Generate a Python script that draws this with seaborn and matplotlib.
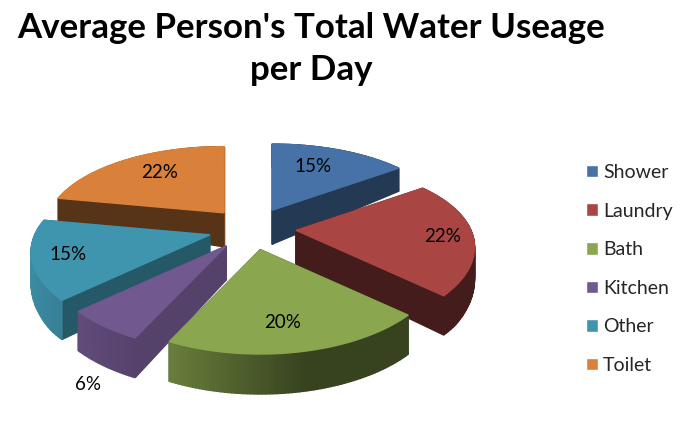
import numpy as np
import matplotlib
matplotlib.use('Agg')
import matplotlib.pyplot as plt
from matplotlib.patches import Patch
import seaborn as sns

# chart values
categories = ['Shower', 'Laundry', 'Bath', 'Kitchen', 'Other', 'Toilet']
percent = [15, 22, 20, 6, 15, 22]
colors = ['#4672A8', '#A94543', '#8AA64E', '#71588F', '#4095AE', '#D9803B']
start_wall_shade = [0.5, 0.4, 0.4, 0.75, 0.6, 0.4]
end_wall_shade = [0.5, 0.4, 0.4, 0.75, 0.6, 0.8]
title = "Average Person's Total Water Useage\nper Day"

# label centres in picture pixels
label_x = [313, 443, 283, 88, 68, 160]
label_y = [166, 237, 322, 384, 254, 173]

# pie layout in picture pixels
cx, cy = 252, 229
rx, ry = 175, 81
persp_x, persp_y = 0.2, 0.224
ex, ey = 44, 21
apex_depth = 34

sns.set_theme(style='white')
plt.rcParams['font.family'] = ['Lato', 'DejaVu Sans']
palette = sns.color_palette(colors)


def rim_point(apex, ang):
    u, v = np.sin(ang), np.cos(ang)
    return apex[0] + rx * u / (1 + persp_x * v), apex[1] - ry * v / (1 + persp_y * v)


def rim_depth(ang):
    return np.interp(np.cos(ang), [-1, -0.6, 0, 0.2, 1], [40, 39, 28, 23, 23])


def rim_shade(ang):
    return np.interp(np.sin(ang), [-1, -0.4, 0.2, 1], [0.95, 0.75, 0.4, 0.4])


def darker(col, k):
    return tuple(c * k for c in col)


fig = plt.figure(figsize=(6.77, 4.26), dpi=100)
ax = fig.add_axes([0, 0, 1, 1])
ax.set_xlim(0, 677)
ax.set_ylim(426, 0)
ax.axis('off')

edges = np.radians(np.concatenate([[0], np.cumsum(percent)]) * 3.6)
wedges = []
for i in range(len(percent)):
    mid = (edges[i] + edges[i + 1]) / 2
    apex = (cx + ex * np.sin(mid), cy - ey * np.cos(mid))
    wedges.append((apex[1], i, apex))

# back slices first
for _, i, apex in sorted(wedges, key=lambda w: w[0]):
    col = palette[i]
    angs = np.linspace(edges[i], edges[i + 1], int(percent[i] * 3.6) + 2)
    pts = [rim_point(apex, a) for a in angs]
    sides = []
    for a, p, k in ((angs[0], pts[0], start_wall_shade[i]), (angs[-1], pts[-1], end_wall_shade[i])):
        quad = [apex, p, (p[0], p[1] + rim_depth(a)), (apex[0], apex[1] + apex_depth)]
        sides.append((np.mean([q[1] for q in quad]), quad, darker(col, k)))
    for j in range(len(angs) - 1):
        p0, p1 = pts[j], pts[j + 1]
        d0, d1 = rim_depth(angs[j]), rim_depth(angs[j + 1])
        quad = [p0, p1, (p1[0], p1[1] + d1), (p0[0], p0[1] + d0)]
        sides.append((np.mean([q[1] for q in quad]), quad,
                      darker(col, rim_shade((angs[j] + angs[j + 1]) / 2))))
    for _, quad, c in sorted(sides, key=lambda s: s[0]):
        # thicker edge closes the seams between neighbouring quads
        ax.fill(*zip(*quad), color=c, lw=1.0)
    ax.fill(*zip(*([apex] + pts)), color=col, lw=1.0)

for x, y, p in zip(label_x, label_y, percent):
    ax.text(x, y, f'{p}%', ha='center', va='center', fontsize=13.5, color='black')

ax.text(311, 49, title, ha='center', va='center', fontsize=25.1, fontweight='bold',
        color='black', linespacing=1.42)

handles = [Patch(facecolor=c, label=n) for c, n in zip(palette, categories)]
ax.legend(handles=handles, loc='upper left', bbox_to_anchor=(586, 164),
          bbox_transform=ax.transData, frameon=False, fontsize=14,
          handlelength=0.62, handleheight=0.62, handletextpad=0.26,
          labelspacing=1.11, borderpad=0, borderaxespad=0)

fig.savefig('out.png', dpi=100)
